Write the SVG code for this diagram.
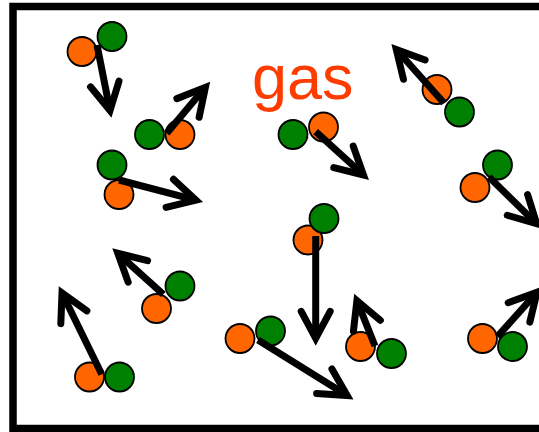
<svg xmlns="http://www.w3.org/2000/svg" width="539" height="432" viewBox="0 0 539 432">
  <style>
    .box { fill: #ffffff; stroke: #000000; stroke-width: 7.5; }
    .o { fill: #ff6600; stroke: #000000; stroke-width: 1.8; }
    .g { fill: #008000; stroke: #000000; stroke-width: 1.8; }
    .v { stroke: #000000; stroke-width: 7; fill: none; marker-end: url(#head); }
    .label { font-family: "Liberation Sans", Arial, sans-serif; font-size: 63px; fill: #ff3c00; }
  </style>
  <defs>
    <!-- open arrowhead: two arms meeting at a sharp tip -->
    <marker id="head" markerUnits="userSpaceOnUse" orient="auto" refX="0" refY="0" markerWidth="40" markerHeight="40" overflow="visible">
      <path d="M -27,-14.5 L 0,0 L -27,14.5" fill="none" stroke="#000000" stroke-width="7" stroke-linejoin="miter" stroke-linecap="round"/>
    </marker>
  </defs>

  <rect class="box" x="13" y="6.5" width="545" height="422"/>

  <text class="label" x="252" y="99">gas</text>

  <g id="m1"><circle class="o" cx="82" cy="51.5" r="14.5"/><circle class="g" cx="112" cy="36.5" r="14.5"/></g>
  <g id="m2"><circle class="g" cx="149.5" cy="134.5" r="14.5"/><circle class="o" cx="180" cy="134.5" r="14.5"/></g>
  <g id="m3"><circle class="o" cx="119" cy="194.5" r="14.5"/><circle class="g" cx="112" cy="165" r="14.5"/></g>
  <g id="m4"><circle class="o" cx="437" cy="89.5" r="14.5"/><circle class="g" cx="459.5" cy="112" r="14.5"/></g>
  <g id="m5"><circle class="g" cx="293" cy="134.5" r="14.5"/><circle class="o" cx="323.5" cy="127" r="14.5"/></g>
  <g id="m6"><circle class="o" cx="475" cy="187.5" r="14.5"/><circle class="g" cx="497.5" cy="165" r="14.5"/></g>
  <g id="m7"><circle class="o" cx="308" cy="240" r="14.5"/><circle class="g" cx="324" cy="218.5" r="14.5"/></g>
  <g id="m8"><circle class="o" cx="89.5" cy="377" r="14.5"/><circle class="g" cx="119.5" cy="377" r="14.5"/></g>
  <g id="m9"><circle class="g" cx="180" cy="286" r="14.5"/><circle class="o" cx="156.5" cy="308.5" r="14.5"/></g>
  <g id="m10"><circle class="o" cx="240" cy="338.5" r="14.5"/><circle class="g" cx="270.5" cy="331" r="14.5"/></g>
  <g id="m11"><circle class="o" cx="360.5" cy="346.5" r="14.5"/><circle class="g" cx="391.5" cy="353.5" r="14.5"/></g>
  <g id="m12"><circle class="o" cx="482.5" cy="338.5" r="14.5"/><circle class="g" cx="512.5" cy="346.5" r="14.5"/></g>

  <g id="velocities">
    <line class="v" x1="97" y1="45" x2="110" y2="110.5"/>
    <line class="v" x1="166.7" y1="133.3" x2="205.4" y2="87.3"/>
    <line class="v" x1="119" y1="180" x2="195.9" y2="200.2"/>
    <line class="v" x1="444" y1="103" x2="396.3" y2="49.5"/>
    <line class="v" x1="315.7" y1="131.7" x2="363.5" y2="175"/>
    <line class="v" x1="489" y1="177" x2="536.7" y2="223.8"/>
    <line class="v" x1="315.7" y1="236" x2="315.7" y2="338.3"/>
    <line class="v" x1="101.7" y1="374.3" x2="62" y2="293"/>
    <line class="v" x1="163.3" y1="294.3" x2="117.8" y2="253.3"/>
    <line class="v" x1="258" y1="340" x2="347.2" y2="395.5"/>
    <line class="v" x1="375" y1="346" x2="356.9" y2="300.6"/>
    <line class="v" x1="497.3" y1="336.7" x2="537" y2="292.3"/>
  </g>
</svg>
